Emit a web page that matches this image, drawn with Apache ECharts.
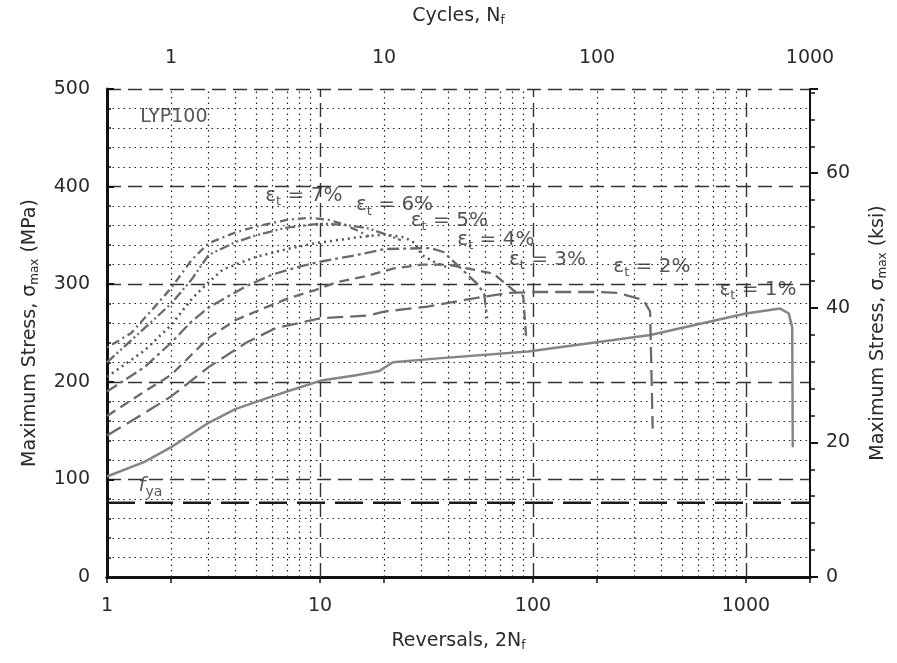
<!DOCTYPE html>
<html><head><meta charset="utf-8">
<script src="https://cdn.jsdelivr.net/npm/echarts@6/dist/echarts.min.js"></script>
<style>html,body{margin:0;padding:0;background:#fff}#c{width:897px;height:663px}</style>
</head><body><div id="c"></div>
<script>
// ---- data (reversals 2Nf, max stress MPa) ----
const r1 = [1, 1.5, 2, 3, 4, 5.6, 7, 10, 15, 19, 22, 36, 95, 356, 1000, 1450, 1590, 1650, 1660];
const s1 = [103, 118, 133, 158, 172, 183, 190, 201, 207, 211, 220, 224, 231, 248, 270, 275, 270, 256, 133];
const r2 = [1, 1.5, 2, 3, 4.5, 6.2, 10, 17, 20, 32, 48, 76, 100, 200, 250, 330, 355, 365];
const s2 = [145, 168, 185, 215, 240, 255, 265, 268, 272, 277, 284, 291, 292, 292, 291, 284, 272, 152];
const r3 = [1, 1.5, 2, 3, 4, 5, 7, 9.5, 12, 17, 22, 30, 40, 65, 82, 90, 93];
const s3 = [165, 190, 207, 245, 263, 272, 285, 294, 302, 309, 316, 320, 320, 311, 293, 288, 245];
const r4 = [1, 1.5, 2, 2.5, 3, 4.5, 6, 8, 10, 15, 20, 33, 38, 45, 55, 59, 61];
const s4 = [190, 215, 240, 262, 276, 298, 310, 318, 323, 330, 336, 337, 333, 318, 300, 290, 265];
const r5 = [1, 1.5, 2, 2.5, 3, 3.5, 5, 7, 9.5, 15, 20, 25, 28, 30, 35, 40];
const s5 = [205, 232, 258, 285, 302, 315, 328, 336, 342, 348, 351, 348, 342, 330, 322, 317];
const r6 = [1, 1.5, 2, 2.5, 3, 4, 5, 7, 10, 13, 17, 21, 24];
const s6 = [220, 255, 280, 305, 330, 343, 350, 358, 362, 361, 357, 350, 345];
const r7 = [1, 1.3, 1.6, 2, 2.5, 3, 4, 5, 7, 9, 11, 13, 15, 17];
const s7 = [235, 250, 272, 296, 325, 342, 353, 359, 366, 368, 366, 361, 355, 349];
const fyaStress = 76;
const strainNames = ['1%', '2%', '3%', '4%', '5%', '6%', '7%'];
// annotation anchors (reversals, MPa)
const annR = [1140, 362, 117, 67, 40.5, 22.4, 8.4];
const annS = [294, 318, 325, 346, 365, 381, 391];
const ksiTicks = [0, 20, 40, 60];
const majorX = [10, 100, 1000];
const minorX = [2,3,4,5,6,7,8,9,20,30,40,50,60,70,80,90,200,300,400,500,600,700,800,900];
const MPA_PER_KSI = 6.894757;

const FONT = '"DejaVu Sans", sans-serif';
const TXT = '#2a2a2a';
const FS = 19;
const rs = [r1, r2, r3, r4, r5, r6, r7];
const ss = [s1, s2, s3, s4, s5, s6, s7];
const styles = [
  {type: 'solid', color: '#858585', width: 2.5},
  {type: [16, 7], color: '#6a6a6a', width: 2.3},
  {type: [10, 6], color: '#6a6a6a', width: 2.3},
  {type: [12, 4, 3, 4], color: '#6a6a6a', width: 2.3},
  {type: [2, 4], color: '#555', width: 2.5},
  {type: [10, 3, 2, 3, 2, 3], color: '#6a6a6a', width: 2.3},
  {type: [2, 4, 8, 4], color: '#6a6a6a', width: 2.3}
];
const series = rs.map((r, i) => ({
  type: 'line', name: strainNames[i], xAxisIndex: 0, yAxisIndex: 0,
  data: r.map((x, j) => [x, ss[i][j]]), showSymbol: false, symbol: 'none',
  lineStyle: styles[i], z: 5, silent: true
}));
// grid lines as markLines
series[0].markLine = {
  silent: true, symbol: 'none', label: {show: false}, animation: false,
  data: minorX.map(v => ({xAxis: v, lineStyle: {type: [1.5, 4], color: '#222', width: 1.2}}))
    .concat(majorX.map(v => ({xAxis: v, lineStyle: {type: [14, 6], color: '#333', width: 1.4}})))
};
series.push({
  type: 'line', name: 'fya', data: [[1, fyaStress], [2000, fyaStress]], showSymbol: false,
  lineStyle: {type: [28, 10], color: '#1a1a1a', width: 2.6}, z: 4, silent: true
});
series.push({
  type: 'scatter', symbolSize: 0, silent: true, z: 6,
  data: annR.map((x, i) => [x, annS[i], strainNames[i]]),
  label: {show: true, position: 'inside', fontFamily: FONT, fontSize: 20, color: TXT,
    formatter: p => 'ε{s|t} = ' + p.data[2],
    rich: {s: {fontSize: 13, verticalAlign: 'bottom', padding: [12, 0, 0, 0], fontFamily: FONT, color: TXT}}}
});
series.push({
  type: 'scatter', symbolSize: 0, silent: true, z: 6,
  data: [[2.06, 471, 'LYP100']],
  label: {show: true, position: 'inside', fontFamily: FONT, fontSize: FS, color: TXT, formatter: p => p.data[2]}
});
series.push({
  type: 'scatter', symbolSize: 0, silent: true, z: 6,
  data: [[1.6, 93, 'f']],
  label: {show: true, position: 'inside', color: TXT,
    formatter: () => '{f|f}{s|ya}',
    rich: {f: {fontFamily: FONT, fontSize: 20, fontStyle: 'italic', color: TXT},
           s: {fontFamily: FONT, fontSize: 14, verticalAlign: 'bottom', padding: [12, 0, 0, 0], color: TXT}}}
});

const isPow10 = v => Math.abs(Math.log10(v) - Math.round(Math.log10(v))) < 1e-6;
const nameRich = {sub: {fontSize: 12, verticalAlign: 'bottom', padding: [9, 0, 0, 0], fontFamily: FONT, color: TXT}};

const option = {
  animation: false,
  backgroundColor: '#fff',
  grid: {left: 107, right: 83, top: 89, bottom: 86, containLabel: false},
  xAxis: [{
    type: 'log', logBase: 10, min: 1, max: 2000, position: 'bottom',
    name: 'Reversals, 2N{sub|f}', nameLocation: 'middle', nameGap: 54,
    nameTextStyle: {fontFamily: FONT, fontSize: FS, color: TXT, rich: nameRich},
    axisLine: {show: true, lineStyle: {color: '#111', width: 3}},
    axisTick: {show: true, inside: false, length: 6, lineStyle: {color: '#111', width: 1.5}},
    axisLabel: {fontFamily: FONT, fontSize: FS, color: TXT, margin: 20,
      formatter: v => isPow10(v) ? String(Math.round(v)) : ''},
    splitLine: {show: false}
  }, {
    type: 'log', logBase: 10, min: 0.5, max: 1000, position: 'top',
    name: 'Cycles, N{sub|f}', nameLocation: 'middle', nameGap: 62,
    nameTextStyle: {fontFamily: FONT, fontSize: FS, color: TXT, rich: nameRich},
    axisLine: {show: true, lineStyle: {color: '#111', width: 3}},
    axisTick: {show: true, inside: true, length: 6, lineStyle: {color: '#111', width: 1.5}},
    axisLabel: {fontFamily: FONT, fontSize: FS, color: TXT, margin: 21,
      formatter: v => isPow10(v) ? String(Math.round(v)) : ''},
    splitLine: {show: false}
  }],
  yAxis: [{
    type: 'value', min: 0, max: 500, interval: 100, position: 'left',
    name: 'Maximum Stress, σ{sub|max} (MPa)', nameLocation: 'middle', nameGap: 66,
    nameTextStyle: {fontFamily: FONT, fontSize: FS, color: TXT, rich: nameRich},
    axisLine: {show: true, lineStyle: {color: '#111', width: 3}},
    axisTick: {show: true, inside: true, length: 7, lineStyle: {color: '#111', width: 2}},
    minorTick: {show: true, splitNumber: 5, length: 4, lineStyle: {color: '#111', width: 1.5}},
    axisLabel: {fontFamily: FONT, fontSize: FS, color: TXT, margin: 17},
    splitLine: {show: true, lineStyle: {type: [14, 7], color: '#333', width: 1.4}},
    minorSplitLine: {show: true, lineStyle: {type: [1.5, 4], color: '#222', width: 1.2}}
  }, {
    type: 'value', min: 0, max: 500 / MPA_PER_KSI, interval: 20, position: 'right',
    name: 'Maximum Stress, σ{sub|max} (ksi)', nameLocation: 'middle', nameGap: 58,
    nameTextStyle: {fontFamily: FONT, fontSize: FS, color: TXT, rich: nameRich},
    axisLine: {show: true, lineStyle: {color: '#111', width: 2}},
    axisTick: {show: true, inside: false, length: 8, lineStyle: {color: '#111', width: 2}},
    minorTick: {show: true, splitNumber: 5, length: 5, lineStyle: {color: '#111', width: 1.5}},
    axisLabel: {fontFamily: FONT, fontSize: FS, color: TXT, margin: 16,
      formatter: v => ksiTicks.includes(Math.round(v * 1000) / 1000) ? String(Math.round(v)) : ''},
    splitLine: {show: false}
  }],
  series: series
};
const chart = echarts.init(document.getElementById('c'));
chart.setOption(option);
</script>
</body></html>
